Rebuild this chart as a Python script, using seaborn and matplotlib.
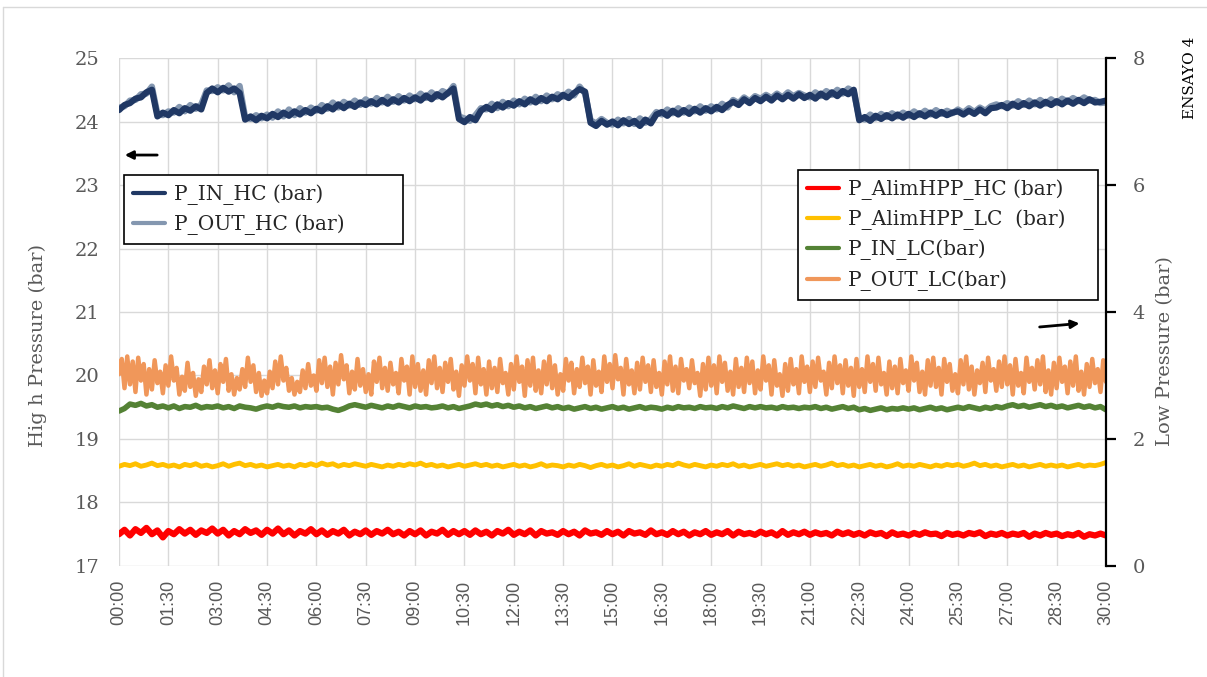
import numpy as np
import pandas as pd
import matplotlib
matplotlib.use("Agg")
import matplotlib.pyplot as plt
import seaborn as sns
from matplotlib.lines import Line2D

# ---- readings over the 30 min run (evenly spaced samples) ----
p_in_hc = [
    24.18, 24.26, 24.29, 24.36, 24.38, 24.46, 24.50, 24.08, 24.14,
    24.10, 24.18, 24.13, 24.21, 24.17, 24.24, 24.19, 24.45, 24.52,
    24.46, 24.53, 24.47, 24.52, 24.45, 24.03, 24.08, 24.02, 24.09,
    24.05, 24.12, 24.07, 24.14, 24.09, 24.16, 24.11, 24.18, 24.13,
    24.20, 24.16, 24.24, 24.19, 24.27, 24.21, 24.28, 24.23, 24.30,
    24.26, 24.32, 24.27, 24.34, 24.28, 24.35, 24.30, 24.37, 24.32,
    24.38, 24.33, 24.41, 24.35, 24.43, 24.38, 24.45, 24.52, 24.04,
    23.99, 24.07, 24.02, 24.17, 24.23, 24.18, 24.27, 24.22, 24.29,
    24.25, 24.32, 24.27, 24.35, 24.30, 24.37, 24.32, 24.39, 24.35,
    24.42, 24.37, 24.45, 24.51, 24.47, 23.98, 23.93, 24.01, 23.95,
    24.00, 23.94, 24.02, 23.96, 24.01, 23.93, 24.03, 23.97, 24.11,
    24.15, 24.09, 24.17, 24.11, 24.18, 24.12, 24.20, 24.14, 24.21,
    24.16, 24.23, 24.18, 24.26, 24.31, 24.26, 24.35, 24.29, 24.37,
    24.32, 24.39, 24.33, 24.41, 24.35, 24.42, 24.36, 24.43, 24.37,
    24.42, 24.36, 24.44, 24.38, 24.46, 24.40, 24.48, 24.43, 24.50,
    24.02, 24.07, 24.01, 24.09, 24.04, 24.10, 24.05, 24.11, 24.06,
    24.12, 24.07, 24.13, 24.08, 24.14, 24.09, 24.15, 24.10, 24.14,
    24.16, 24.11, 24.17, 24.12, 24.19, 24.13, 24.21, 24.22, 24.26,
    24.21, 24.28, 24.23, 24.29, 24.24, 24.30, 24.25, 24.31, 24.26,
    24.32, 24.27, 24.33, 24.28, 24.34, 24.29, 24.35, 24.30, 24.31,
    24.33,
]
p_out_hc = [
    24.22, 24.24, 24.33, 24.34, 24.43, 24.44, 24.55, 24.12, 24.10,
    24.16, 24.14, 24.23, 24.16, 24.26, 24.20, 24.27, 24.49, 24.48,
    24.54, 24.49, 24.57, 24.46, 24.56, 24.07, 24.04, 24.10, 24.05,
    24.11, 24.06, 24.16, 24.08, 24.19, 24.10, 24.21, 24.14, 24.22,
    24.17, 24.26, 24.20, 24.30, 24.22, 24.31, 24.25, 24.33, 24.26,
    24.35, 24.28, 24.37, 24.30, 24.39, 24.31, 24.40, 24.33, 24.41,
    24.35, 24.44, 24.37, 24.46, 24.39, 24.48, 24.44, 24.56, 24.08,
    24.05, 24.01, 24.10, 24.21, 24.19, 24.28, 24.21, 24.31, 24.24,
    24.33, 24.27, 24.36, 24.30, 24.39, 24.32, 24.41, 24.35, 24.43,
    24.39, 24.47, 24.41, 24.55, 24.44, 24.02, 23.97, 24.04, 23.98,
    23.95, 24.03, 23.97, 24.04, 23.96, 24.05, 23.98, 24.04, 24.15,
    24.11, 24.19, 24.13, 24.21, 24.14, 24.22, 24.16, 24.24, 24.17,
    24.24, 24.19, 24.28, 24.22, 24.34, 24.29, 24.38, 24.32, 24.40,
    24.36, 24.42, 24.37, 24.44, 24.38, 24.46, 24.40, 24.45, 24.41,
    24.38, 24.46, 24.40, 24.48, 24.42, 24.50, 24.44, 24.52, 24.47,
    24.06, 24.03, 24.11, 24.05, 24.12, 24.07, 24.13, 24.08, 24.14,
    24.09, 24.16, 24.10, 24.17, 24.11, 24.18, 24.12, 24.17, 24.13,
    24.19, 24.14, 24.21, 24.15, 24.22, 24.17, 24.24, 24.27, 24.24,
    24.29, 24.25, 24.32, 24.26, 24.33, 24.27, 24.34, 24.28, 24.35,
    24.29, 24.36, 24.31, 24.37, 24.32, 24.38, 24.33, 24.34, 24.29,
    24.30,
]
p_alim_hc = [
    0.50, 0.57, 0.48, 0.58, 0.52, 0.60, 0.50, 0.56, 0.45,
    0.55, 0.50, 0.58, 0.51, 0.57, 0.49, 0.56, 0.52, 0.59,
    0.51, 0.57, 0.48, 0.55, 0.50, 0.58, 0.52, 0.56, 0.49,
    0.57, 0.51, 0.59, 0.50, 0.56, 0.48, 0.55, 0.51, 0.58,
    0.50, 0.56, 0.49, 0.55, 0.51, 0.57, 0.48, 0.54, 0.50,
    0.56, 0.49, 0.55, 0.51, 0.57, 0.50, 0.54, 0.48, 0.55,
    0.50, 0.56, 0.48, 0.54, 0.51, 0.57, 0.49, 0.55, 0.50,
    0.55, 0.49, 0.56, 0.50, 0.54, 0.48, 0.55, 0.51, 0.57,
    0.49, 0.54, 0.50, 0.56, 0.48, 0.55, 0.51, 0.53, 0.49,
    0.55, 0.50, 0.54, 0.48, 0.56, 0.51, 0.53, 0.49, 0.55,
    0.50, 0.54, 0.48, 0.55, 0.51, 0.53, 0.49, 0.56, 0.50,
    0.53, 0.49, 0.55, 0.50, 0.54, 0.48, 0.53, 0.50, 0.55,
    0.49, 0.53, 0.50, 0.55, 0.48, 0.54, 0.50, 0.52, 0.49,
    0.54, 0.50, 0.53, 0.48, 0.55, 0.49, 0.53, 0.50, 0.54,
    0.49, 0.53, 0.50, 0.52, 0.48, 0.54, 0.50, 0.53, 0.49,
    0.52, 0.48, 0.53, 0.50, 0.52, 0.47, 0.53, 0.49, 0.51,
    0.48, 0.52, 0.49, 0.53, 0.50, 0.51, 0.47, 0.52, 0.49,
    0.51, 0.48, 0.52, 0.50, 0.53, 0.47, 0.51, 0.49, 0.52,
    0.48, 0.51, 0.49, 0.52, 0.46, 0.51, 0.48, 0.52, 0.49,
    0.51, 0.47, 0.50, 0.48, 0.52, 0.46, 0.50, 0.48, 0.51,
    0.48,
]
p_alim_lc = [
    1.57, 1.60, 1.58, 1.61, 1.57, 1.59, 1.62, 1.58, 1.60,
    1.57, 1.59, 1.56, 1.60, 1.58, 1.61, 1.57, 1.59, 1.56,
    1.58, 1.61, 1.57, 1.60, 1.62, 1.58, 1.60, 1.57, 1.59,
    1.56, 1.58, 1.60, 1.57, 1.59, 1.56, 1.60, 1.58, 1.61,
    1.58, 1.62, 1.59, 1.61, 1.57, 1.60, 1.58, 1.61, 1.59,
    1.57, 1.60, 1.58, 1.56, 1.59, 1.57, 1.60, 1.58, 1.61,
    1.59, 1.62, 1.58, 1.60, 1.57, 1.59, 1.56, 1.58, 1.60,
    1.57, 1.59, 1.61, 1.58, 1.60, 1.57, 1.59, 1.56, 1.58,
    1.60, 1.57, 1.59, 1.56, 1.58, 1.61, 1.57, 1.59, 1.58,
    1.56, 1.59, 1.57, 1.60, 1.58, 1.55, 1.58, 1.60, 1.57,
    1.59, 1.56, 1.58, 1.61, 1.57, 1.60, 1.58, 1.56, 1.59,
    1.57, 1.60, 1.58, 1.62, 1.59, 1.57, 1.60, 1.58, 1.56,
    1.59, 1.57, 1.60, 1.58, 1.61, 1.57, 1.59, 1.56, 1.58,
    1.60, 1.57, 1.59, 1.61, 1.58, 1.60, 1.57, 1.59, 1.56,
    1.58, 1.60, 1.57, 1.59, 1.62, 1.58, 1.60, 1.57, 1.59,
    1.56, 1.58, 1.60, 1.57, 1.59, 1.56, 1.58, 1.61, 1.57,
    1.59, 1.57, 1.60, 1.58, 1.56, 1.59, 1.57, 1.60, 1.58,
    1.60, 1.57, 1.59, 1.62, 1.58, 1.60, 1.57, 1.59, 1.56,
    1.58, 1.60, 1.57, 1.59, 1.56, 1.58, 1.60, 1.57, 1.59,
    1.57, 1.59, 1.56, 1.58, 1.60, 1.57, 1.59, 1.58, 1.60,
    1.63,
]
p_in_lc = [
    2.44, 2.48, 2.55, 2.53, 2.56, 2.52, 2.54, 2.50, 2.52,
    2.49, 2.52, 2.48, 2.51, 2.50, 2.53, 2.49, 2.51, 2.50,
    2.52, 2.49, 2.51, 2.48, 2.52, 2.50, 2.49, 2.47, 2.50,
    2.52, 2.50, 2.53, 2.51, 2.50, 2.52, 2.49, 2.51, 2.50,
    2.51, 2.49, 2.50, 2.47, 2.45, 2.48, 2.52, 2.54, 2.52,
    2.50, 2.53, 2.51, 2.49, 2.52, 2.50, 2.53, 2.51, 2.49,
    2.52, 2.50, 2.51, 2.49, 2.50, 2.52, 2.49, 2.51, 2.48,
    2.50, 2.52, 2.55, 2.53, 2.55, 2.52, 2.54, 2.51, 2.53,
    2.50, 2.52, 2.49, 2.51, 2.48, 2.50, 2.52, 2.49, 2.51,
    2.48, 2.50, 2.47, 2.49, 2.51, 2.48, 2.50, 2.47, 2.49,
    2.51, 2.48, 2.50, 2.47, 2.49, 2.51, 2.48, 2.50, 2.49,
    2.47, 2.50, 2.48, 2.51, 2.49, 2.50, 2.48, 2.51, 2.49,
    2.50, 2.48, 2.51, 2.49, 2.52, 2.50, 2.48, 2.51, 2.49,
    2.51, 2.49, 2.50, 2.48, 2.51, 2.49, 2.50, 2.48, 2.50,
    2.49, 2.51, 2.48, 2.50, 2.47, 2.49, 2.51, 2.48, 2.50,
    2.46, 2.48, 2.45, 2.47, 2.49, 2.46, 2.48, 2.47, 2.49,
    2.47, 2.49, 2.46, 2.48, 2.50, 2.47, 2.49, 2.46, 2.48,
    2.50, 2.48, 2.51, 2.49, 2.47, 2.50, 2.48, 2.51, 2.49,
    2.52, 2.54, 2.51, 2.53, 2.50, 2.52, 2.54, 2.51, 2.53,
    2.50, 2.52, 2.49, 2.51, 2.53, 2.50, 2.52, 2.49, 2.51,
    2.46,
]
p_out_lc = [
    3.02, 3.26, 2.80, 3.30, 2.86, 3.22, 2.74, 3.28, 2.92,
    3.18, 2.70, 3.10, 2.78, 3.24, 2.88, 3.06, 2.72, 3.16,
    2.84, 3.30, 2.92, 3.12, 2.70, 2.98, 2.76, 3.20, 2.82,
    3.04, 2.68, 2.94, 2.74, 3.14, 2.86, 3.24, 2.80, 3.08,
    2.72, 3.18, 2.90, 3.26, 2.76, 3.02, 2.70, 2.96, 2.78,
    3.10, 2.82, 3.28, 2.90, 3.16, 2.74, 3.04, 2.68, 2.92,
    2.72, 3.06, 2.80, 3.22, 2.86, 3.30, 2.92, 3.12, 2.76,
    2.96, 2.70, 2.90, 2.74, 3.08, 2.80, 3.18, 2.84, 3.00,
    2.76, 3.24, 2.88, 3.28, 2.82, 3.14, 2.70, 3.20, 2.86,
    3.32, 2.94, 3.16, 2.72, 3.06, 2.78, 3.26, 2.84, 3.10,
    2.74, 3.02, 2.70, 3.22, 2.90, 3.28, 2.80, 3.12, 2.76,
    3.20, 2.86, 3.04, 2.72, 3.26, 2.92, 3.14, 2.70, 3.30,
    2.82, 3.18, 2.76, 3.08, 2.70, 3.24, 2.88, 3.30, 2.80,
    3.12, 2.74, 3.20, 2.90, 3.26, 2.78, 3.06, 2.68, 3.16,
    2.84, 3.30, 2.92, 3.18, 2.72, 3.28, 2.86, 3.10, 2.70,
    3.22, 2.80, 3.12, 2.74, 3.26, 2.88, 3.04, 2.70, 3.18,
    2.78, 3.30, 2.90, 3.14, 2.68, 3.24, 2.84, 3.28, 2.76,
    3.08, 2.72, 3.22, 2.86, 3.30, 2.80, 3.16, 2.70, 3.02,
    2.76, 3.26, 2.92, 3.20, 2.72, 3.10, 2.82, 3.28, 2.88,
    3.14, 2.70, 3.24, 2.84, 3.06, 2.74, 3.30, 2.90, 3.18,
    2.80, 3.32, 2.94, 3.12, 2.70, 3.26, 2.86, 3.08, 2.72,
    3.20, 2.78, 3.28, 2.90, 3.16, 2.74, 3.24, 2.82, 3.04,
    2.70, 3.22, 2.86, 3.30, 2.76, 3.14, 2.72, 3.26, 2.92,
    3.10, 2.80, 3.24, 2.88, 3.04, 2.68, 3.18, 2.78, 3.28,
    2.84, 3.16, 2.72, 3.30, 2.90, 3.20, 2.76, 3.06, 2.70,
    3.26, 2.82, 3.12, 2.74, 3.28, 2.88, 3.22, 2.72, 3.08,
    2.78, 3.30, 2.92, 3.16, 2.70, 3.24, 2.84, 3.02, 2.68,
    3.18, 2.76, 3.26, 2.86, 3.10, 2.72, 3.30, 2.90, 3.14,
    2.74, 3.22, 2.82, 3.28, 2.92, 3.06, 2.70, 3.20, 2.80,
    3.30, 2.88, 3.16, 2.72, 3.24, 2.84, 3.12, 2.68, 3.26,
    2.82, 3.10, 2.74, 3.30, 2.90, 3.18, 2.76, 3.28, 2.86,
    3.04, 2.70, 3.22, 2.80, 3.14, 2.72, 3.26, 2.88, 3.08,
    2.76, 3.30, 2.92, 3.20, 2.74, 3.06, 2.70, 3.24, 2.84,
    3.28, 2.82, 3.12, 2.70, 3.26, 2.90, 3.18, 2.76, 3.02,
    2.72, 3.24, 2.86, 3.30, 2.78, 3.14, 2.70, 3.08, 2.88,
    3.20, 2.74, 3.28, 2.92, 3.10, 2.76, 3.22, 2.82, 3.30,
    2.86, 3.16, 2.70, 3.26, 2.84, 3.04, 2.72, 3.28, 2.90,
    3.12, 2.78, 3.24, 2.86, 3.30, 2.74, 3.08, 2.70, 3.20,
    2.80, 3.28, 2.90, 3.14, 2.72, 3.22, 2.84, 3.30, 2.76,
    3.06, 2.70, 3.18, 2.82, 3.26, 2.88, 3.10, 2.74, 3.24,
    2.90,
]

time_ticks = [0, 1.5, 3, 4.5, 6, 7.5, 9, 10.5, 12, 13.5, 15, 16.5, 18,
              19.5, 21, 22.5, 24, 25.5, 27, 28.5, 30]
time_labels = ["00:00", "01:30", "03:00", "04:30", "06:00", "07:30", "09:00",
               "10:30", "12:00", "13:30", "15:00", "16:30", "18:00", "19:30",
               "21:00", "22:30", "24:00", "25:30", "27:00", "28:30", "30:00"]


def series_frame(values):
    return pd.DataFrame({"t": np.linspace(0, 30, len(values)), "p": values})


sns.set_theme(style="white")
plt.rcParams["font.family"] = ["DejaVu Serif"]

GREY = "#595959"
fig = plt.figure(figsize=(12.07, 6.77), dpi=100)
ax = fig.add_axes([0.0986, 0.164, 0.8177, 0.7503])
ax2 = ax.twinx()

# high-pressure circuit (left axis)
sns.lineplot(data=series_frame(p_out_hc), x="t", y="p", ax=ax, color="#8497b0",
             lw=4.5, label="P_OUT_HC (bar)")
sns.lineplot(data=series_frame(p_in_hc), x="t", y="p", ax=ax, color="#203864",
             lw=4.5, label="P_IN_HC (bar)")

# low-pressure circuit (right axis)
low = [
    (p_alim_hc, "#ff0000", 4.5, "P_AlimHPP_HC (bar)"),
    (p_alim_lc, "#ffc000", 3.5, "P_AlimHPP_LC  (bar)"),
    (p_in_lc, "#548235", 4.0, "P_IN_LC(bar)"),
    (p_out_lc, "#f0975a", 3.2, "P_OUT_LC(bar)"),
]
for vals, col, width, lab in low:
    sns.lineplot(data=series_frame(vals), x="t", y="p", ax=ax2, color=col,
                 lw=width, label=lab)

ax.set_xlim(0, 30)
ax.set_ylim(17, 25)
ax2.set_ylim(0, 8)
ax.set_xticks(time_ticks)
ax.set_xticklabels(time_labels)
ax.set_yticks(range(17, 26))
ax2.set_yticks(range(0, 9, 2))
ax.set_xlabel("")
ax.set_ylabel("")
ax2.set_ylabel("")

ax.grid(True, color="#d9d9d9", lw=1)
ax.set_axisbelow(True)
for s in ax.spines.values():
    s.set_visible(False)
for name, s in ax2.spines.items():
    s.set_visible(name == "right")
ax2.spines["right"].set_color("black")
ax2.spines["right"].set_linewidth(1.6)

ax.tick_params(axis="y", length=0, labelsize=14, labelcolor=GREY, pad=14)
ax.tick_params(axis="x", length=0, labelsize=13, labelcolor=GREY,
               rotation=90, pad=10)
for lbl in ax.get_xticklabels():
    lbl.set_fontfamily("Liberation Sans")
ax2.tick_params(axis="y", length=7, width=1.6, color="black", direction="out",
                labelsize=14, labelcolor=GREY, pad=12)

# legends
legend_style = dict(loc="upper left", bbox_transform=fig.transFigure,
                    mode="expand", borderaxespad=0, fontsize=14.5, frameon=True,
                    fancybox=False, edgecolor="black", framealpha=1,
                    handlelength=1.6, handletextpad=0.45, labelspacing=0.48,
                    borderpad=0.45)
h, l = ax.get_legend_handles_labels()
leg1 = ax.legend([h[1], h[0]], [l[1], l[0]],
                 bbox_to_anchor=(0.1027, 0.6415, 0.2312, 0.1), **legend_style)
leg1.get_frame().set_linewidth(1.2)
for line in leg1.get_lines():
    line.set_linewidth(3)

h2, l2 = ax2.get_legend_handles_labels()
leg2 = ax2.legend(h2, l2, bbox_to_anchor=(0.6611, 0.6489, 0.2486, 0.1),
                  **legend_style)
leg2.get_frame().set_linewidth(1.2)
for line in leg2.get_lines():
    line.set_linewidth(3)

# axis titles and tag
fig.text(38 / 1207, 0.490, "Hig h Pressure (bar)", rotation=90, ha="center",
         va="center", fontsize=14, color=GREY)
fig.text(1165 / 1207, 0.4815, "Low Pressure (bar)", rotation=90, ha="center",
         va="center", fontsize=14, color=GREY)
fig.text(1190 / 1207, 0.885, "ENSAYO 4", rotation=90, ha="center", va="center",
         fontsize=11, color="black")

# arrows pointing to each axis
ax.annotate("", xy=(0.003, 0.809), xytext=(0.0415, 0.809),
            xycoords="axes fraction",
            arrowprops=dict(arrowstyle="-|>", color="black", lw=2,
                            mutation_scale=12))
ax2.annotate("", xy=(0.976, 0.478), xytext=(0.930, 0.470),
             xycoords="axes fraction",
             arrowprops=dict(arrowstyle="-|>", color="black", lw=2,
                             mutation_scale=12))

# sheet frame
fig.add_artist(Line2D([3 / 1207, 1], [1 - 7 / 677] * 2,
                      transform=fig.transFigure, color="#d9d9d9", lw=1))
fig.add_artist(Line2D([3 / 1207] * 2, [0, 1 - 7 / 677],
                      transform=fig.transFigure, color="#d9d9d9", lw=1))

fig.savefig("out.png", dpi=100)
